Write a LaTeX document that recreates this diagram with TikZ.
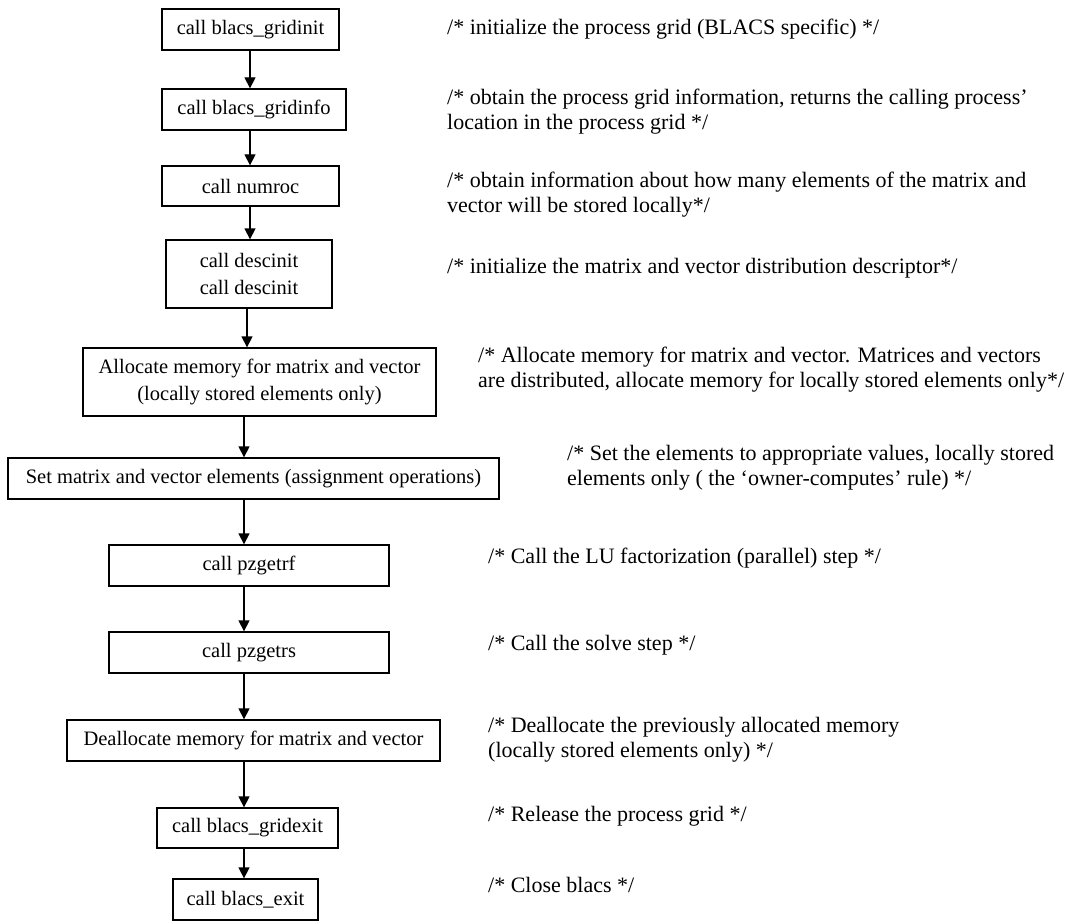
\documentclass[tikz,border=0pt]{standalone}
\usepackage{fontspec}
\setmainfont{Liberation Serif}
\usetikzlibrary{arrows.meta}
\begin{document}
\begin{tikzpicture}[x=1pt,y=-1pt,
  box/.style={draw, line width=1.3pt, inner sep=0pt, align=center,
    font=\fontsize{20.5}{27}\selectfont},
  note/.style={anchor=west, inner sep=0pt, align=left,
    font=\fontsize{22}{25}\selectfont},
  flow/.style={line width=1.3pt, -{Triangle[width=11pt,length=11pt]}}]
\path[use as bounding box, fill=white] (0,0) rectangle (1091,920);
\clip (0,0) rectangle (1091,920);

% columns used by the vertical connectors
\coordinate (colA) at (250,0);
\coordinate (colB) at (247,0);
\coordinate (colC) at (244,0);

% flow of calls
\node[box, minimum width=177pt, minimum height=41pt] (b1) at (250.5,29.5) {call blacs\_gridinit};
\node[box, minimum width=184pt, minimum height=41pt] (b2) at (254,109.5) {call blacs\_gridinfo};
\node[box, minimum width=177pt, minimum height=40pt] (b3) at (250.5,186) {call numroc};
\node[box, minimum width=166pt, minimum height=68pt] (b4) at (249,274) {call descinit\\call descinit};
\node[box, minimum width=353pt, minimum height=68pt] (b5) at (259.5,382) {Allocate memory for matrix and vector\\(locally stored elements only)};
\node[box, minimum width=491pt, minimum height=41pt] (b6) at (253.5,478.5) {Set matrix and vector elements (assignment operations)};
\node[box, minimum width=280pt, minimum height=41pt] (b7) at (249,565.5) {call pzgetrf};
\node[box, minimum width=280pt, minimum height=41pt] (b8) at (249,652.5) {call pzgetrs};
\node[box, minimum width=373pt, minimum height=41pt] (b9) at (253.5,740.5) {Deallocate memory for matrix and vector};
\node[box, minimum width=181pt, minimum height=40pt] (b10) at (247.5,828) {call blacs\_gridexit};
\node[box, minimum width=145pt, minimum height=41pt] (b11) at (245.5,899.5) {call blacs\_exit};

% connectors
\draw[flow] (b1.south -| colA) -- (b2.north -| colA);
\draw[flow] (b2.south -| colA) -- (b3.north -| colA);
\draw[flow] (b3.south -| colA) -- (b4.north -| colA);
\draw[flow] (b4.south -| colB) -- (b5.north -| colB);
\draw[flow] (b5.south -| colC) -- (b6.north -| colC);
\draw[flow] (b6.south -| colC) -- (b7.north -| colC);
\draw[flow] (b7.south -| colC) -- (b8.north -| colC);
\draw[flow] (b8.south -| colC) -- (b9.north -| colC);
\draw[flow] (b9.south -| colC) -- (b10.north -| colC);
\draw[flow] (b10.south -| colC) -- (b11.north -| colC);

% comments
\node[note] (c1) at (447,29) {/* initialize the process grid (BLACS specific) */};
\node[note] (c2) at (447,112) {/* obtain the process grid information, returns the calling process’\\location in the process grid */};
\node[note] (c3) at (447,195) {/* obtain information about how many elements of the matrix and\\vector will be stored locally*/};
\node[note] (c4) at (447,268) {/* initialize the matrix and vector distribution descriptor*/};
\node[note] (c5) at (478,370) {/* Allocate memory for matrix and vector. Matrices and vectors\\are distributed, allocate memory for locally stored elements only*/};
\node[note] (c6) at (567,468) {/* Set the elements to appropriate values, locally stored\\elements only ( the ‘owner-computes’ rule) */};
\node[note] (c7) at (488,558) {/* Call the LU factorization (parallel) step */};
\node[note] (c8) at (488,645) {/* Call the solve step */};
\node[note] (c9) at (488,740) {/* Deallocate the previously allocated memory\\(locally stored elements only) */};
\node[note] (c10) at (488,816) {/* Release the process grid */};
\node[note] (c11) at (488,885) {/* Close blacs */};
\end{tikzpicture}
\end{document}
